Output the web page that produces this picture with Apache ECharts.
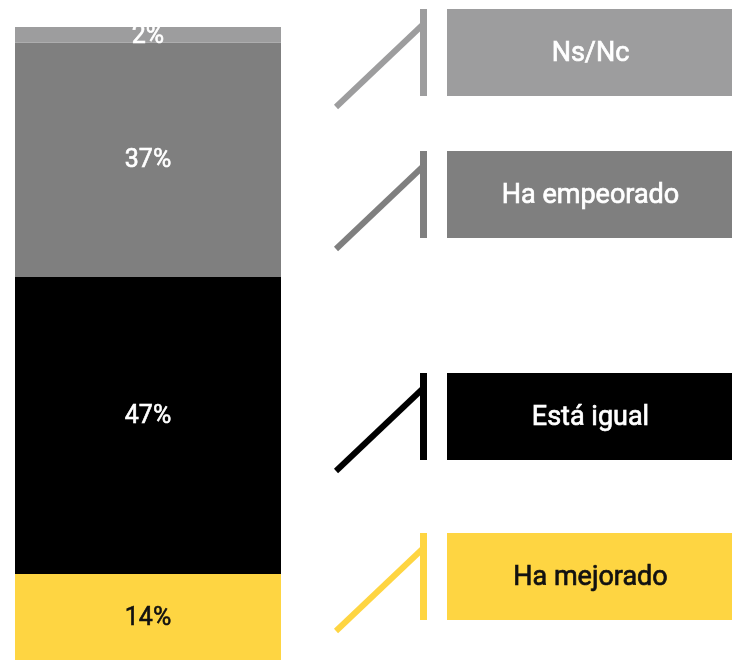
<!DOCTYPE html>
<html>
<head>
<meta charset="utf-8">
<script src="https://cdn.jsdelivr.net/npm/echarts@6/dist/echarts.min.js"></script>
<style>
  html, body { margin: 0; padding: 0; background: #fff; }
  #chart { width: 732px; height: 660px; }
</style>
</head>
<body>
<div id="chart"></div>
<script>
  // data, bottom to top of the stack
  const categories = ['Ha mejorado', 'Está igual', 'Ha empeorado', 'Ns/Nc'];
  const values = [13.6, 46.9, 37.0, 2.5];
  const valueLabels = ['14%', '47%', '37%', '2%'];

  const colors = ['#fed542', '#000000', '#7f7f7f', '#9d9d9e'];
  const textColors = ['#111111', '#ffffff', '#ffffff', '#ffffff'];
  const labelOffsets = [[0, 2], [0, -9], [0, 1], [0, 2]];

  // callout layout (pixels)
  const boxTops = [533, 373, 151, 9];
  const boxH = 87, boxX = 447, boxW = 285, stemX = 423.5;

  const myChart = echarts.init(document.getElementById('chart'));

  const series = categories.map((name, i) => ({
    name: name,
    type: 'bar',
    stack: 'total',
    barWidth: '100%',
    itemStyle: { color: colors[i] },
    label: {
      show: true,
      position: 'inside',
      offset: labelOffsets[i],
      formatter: () => valueLabels[i],
      color: textColors[i],
      textBorderColor: textColors[i],
      textBorderWidth: 0.6,
      fontFamily: 'Roboto',
      fontSize: 25
    },
    data: [values[i]],
    silent: true
  }));

  const graphic = [];
  categories.forEach((name, i) => {
    const top = boxTops[i];
    graphic.push({
      type: 'line',
      shape: { x1: stemX, y1: top, x2: stemX, y2: top + boxH },
      style: { stroke: colors[i], lineWidth: 7 }
    });
    graphic.push({
      type: 'line',
      shape: { x1: 336, y1: top + boxH + 11, x2: stemX, y2: top + 15 },
      style: { stroke: colors[i], lineWidth: 6 }
    });
    graphic.push({
      type: 'rect',
      shape: { x: boxX, y: top, width: boxW, height: boxH },
      style: { fill: colors[i] }
    });
    graphic.push({
      type: 'text',
      x: boxX + boxW / 2 + 1,
      y: top + boxH / 2 + 2,
      style: {
        text: name,
        fill: textColors[i],
        stroke: textColors[i],
        lineWidth: 0.7,
        font: 'normal 27px Roboto',
        align: 'center',
        verticalAlign: 'middle'
      }
    });
  });

  myChart.setOption({
    animation: false,
    grid: { left: 15, right: 451, top: 27, bottom: 0 },
    xAxis: { type: 'category', data: [''], show: false },
    yAxis: { type: 'value', min: 0, max: 100, show: false },
    series: series,
    graphic: graphic
  });
</script>
</body>
</html>
